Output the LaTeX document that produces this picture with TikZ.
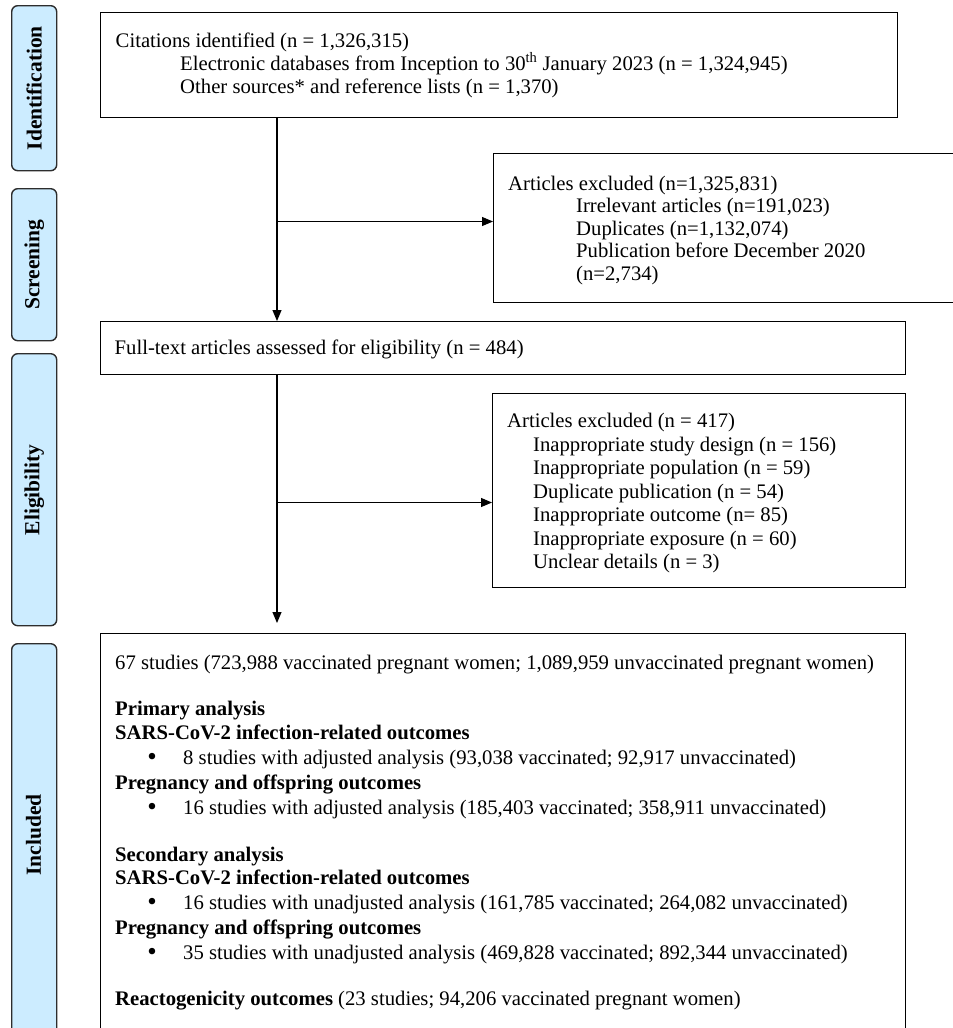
\documentclass[tikz,border=0pt]{standalone}
\usepackage{fontspec}
\setmainfont{Liberation Serif}
\usetikzlibrary{arrows.meta}
\definecolor{lblue}{RGB}{204,236,255}
\definecolor{edge}{RGB}{45,45,45}
\begin{document}
\begin{tikzpicture}[x=1pt,y=-1pt,
 box/.style={draw=black, line width=1.1pt, anchor=north west, inner sep=0pt},
 phase/.style={draw=edge, fill=lblue, line width=1.4pt, rounded corners=6pt, anchor=north west, inner sep=0pt},
 txt/.style={anchor=base west, inner sep=0pt, font=\fontsize{20.7}{24}\selectfont},
 btxt/.style={anchor=base west, inner sep=0pt, font=\fontsize{20.7}{24}\selectfont\bfseries},
 bul/.style={anchor=base, inner sep=0pt, font=\fontsize{27}{24}\selectfont},
 lbl/.style={rotate=90, inner sep=0pt, font=\fontsize{21.5}{24}\selectfont\bfseries},
 arr/.style={line width=1.1pt, -{Triangle[length=11pt,width=9pt]}}]
\useasboundingbox (0,0) rectangle (953,1028);
\clip (0,0) rectangle (953,1028);

% phase labels
\node[phase, minimum width=45pt, minimum height=165pt] (pid) at (11,5) {};
\node[lbl] (lid) at (pid.center) {Identification};
\node[phase, minimum width=45pt, minimum height=152pt] (psc) at (11,188) {};
\node[lbl] (lsc) at (psc.center) {Screening};
\node[phase, minimum width=45pt, minimum height=272pt] (pel) at (11,353) {};
\node[lbl] (lel) at (pel.center) {Eligibility};
\node[phase, minimum width=45pt, minimum height=420pt] (pin) at (11,643) {};
\node[lbl] (lin) at (11+22.5,835) {Included};

% boxes
\node[box, minimum width=797pt, minimum height=105pt] (b1) at (100,12) {};
\node[box, minimum width=500pt, minimum height=149pt] (ex1) at (493,153) {};
\node[box, minimum width=805pt, minimum height=53pt] (b2) at (100,321) {};
\node[box, minimum width=413pt, minimum height=194pt] (ex2) at (492,393) {};
\node[box, minimum width=805pt, minimum height=430pt] (b4) at (100,633) {};

% box 1 text
\node[txt] (t11) at (115.5,47) {Citations identified (n = 1,326,315)};
\node[txt] (t12) at (180,70) {Electronic databases from Inception to 30\textsuperscript{th} January 2023 (n = 1,324,945)};
\node[txt] (t13) at (180,93) {Other sources* and reference lists (n = 1,370)};

% excluded 1 text
\node[txt] (e11) at (508,190) {Articles excluded (n=1,325,831)};
\node[txt] (e12) at (576,212.5) {Irrelevant articles (n=191,023)};
\node[txt] (e13) at (576,235) {Duplicates (n=1,132,074)};
\node[txt] (e14) at (576,257.5) {Publication before December 2020};
\node[txt] (e15) at (576,280) {(n=2,734)};

% box 2 text
\node[txt] (t21) at (114.5,354.5) {Full-text articles assessed for eligibility (n = 484)};

% excluded 2 text
\node[txt] (e21) at (507,427.5) {Articles excluded (n = 417)};
\node[txt] (e22) at (533,451) {Inappropriate study design (n = 156)};
\node[txt] (e23) at (533,474.5) {Inappropriate population (n = 59)};
\node[txt] (e24) at (533,498) {Duplicate publication (n = 54)};
\node[txt] (e25) at (533,521.5) {Inappropriate outcome (n= 85)};
\node[txt] (e26) at (533,545) {Inappropriate exposure (n = 60)};
\node[txt] (e27) at (533,568.5) {Unclear details (n = 3)};

% included text
\node[txt] (i01) at (115,669) {67 studies (723,988 vaccinated pregnant women; 1,089,959 unvaccinated pregnant women)};
\node[btxt] (i02) at (115,715) {Primary analysis};
\node[btxt] (i03) at (115,739) {SARS-CoV-2 infection-related outcomes};
\node[bul] (i04b) at (152,765) {\textbullet};
\node[txt] (i04) at (183,764) {8 studies with adjusted analysis (93,038 vaccinated; 92,917 unvaccinated)};
\node[btxt] (i05) at (115,789) {Pregnancy and offspring outcomes};
\node[bul] (i06b) at (152,815) {\textbullet};
\node[txt] (i06) at (183,814) {16 studies with adjusted analysis (185,403 vaccinated; 358,911 unvaccinated)};
\node[btxt] (i07) at (115,861) {Secondary analysis};
\node[btxt] (i08) at (115,884.5) {SARS-CoV-2 infection-related outcomes};
\node[bul] (i09b) at (152,910) {\textbullet};
\node[txt] (i09) at (183,909) {16 studies with unadjusted analysis (161,785 vaccinated; 264,082 unvaccinated)};
\node[btxt] (i10) at (115,934) {Pregnancy and offspring outcomes};
\node[bul] (i11b) at (152,960) {\textbullet};
\node[txt] (i11) at (183,959) {35 studies with unadjusted analysis (469,828 vaccinated; 892,344 unvaccinated)};
\node[txt] (i12) at (115,1005) {\textbf{Reactogenicity outcomes} (23 studies; 94,206 vaccinated pregnant women)};

% connectors
\coordinate (tk) at (277,0);
\coordinate (j1) at (277,221.5);
\coordinate (j2) at (277,502.5);
\draw[arr] (b1.south -| tk) -- (b2.north -| tk);
\draw[arr] (j1) -- (ex1.west |- j1);
\draw[arr, shorten >=10pt] (b2.south -| tk) -- (b4.north -| tk);
\draw[arr] (j2) -- (ex2.west |- j2);
\end{tikzpicture}
\end{document}
